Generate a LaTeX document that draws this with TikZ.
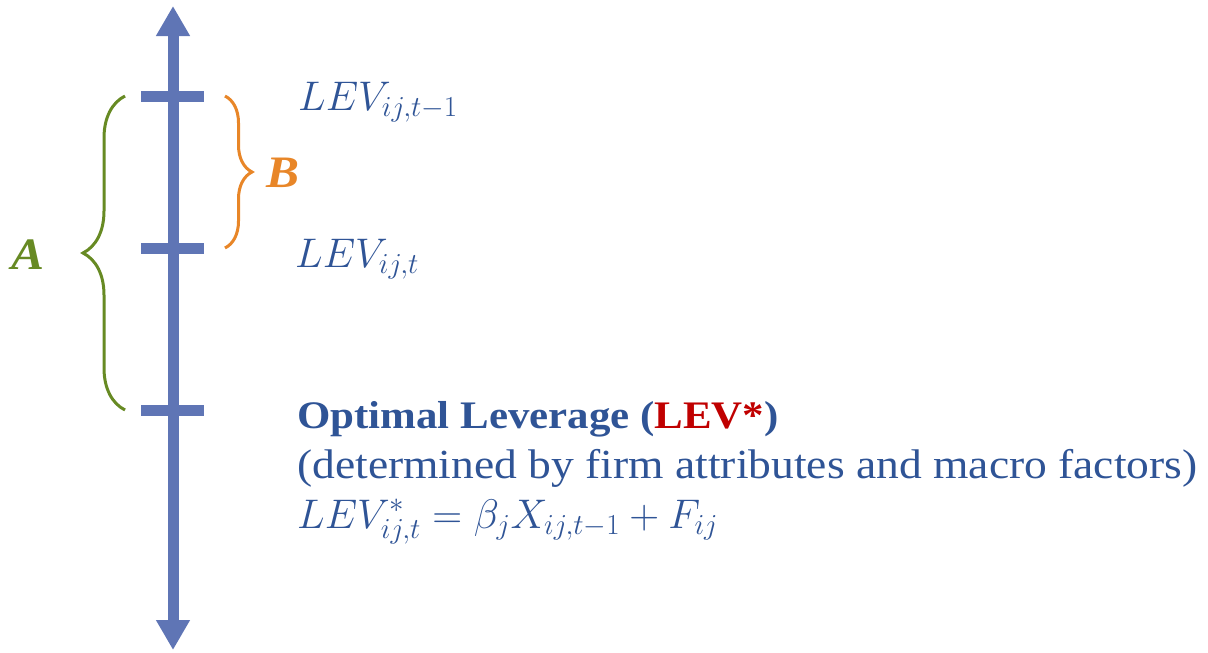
\RequirePackage{fix-cm}
\documentclass[tikz,border=0pt]{standalone}
\usepackage{fontspec}
\setmainfont{Liberation Serif}[FakeStretch=1.1]
\usetikzlibrary{arrows.meta,decorations.pathreplacing,positioning}
\definecolor{axisblue}{RGB}{95,117,181}
\definecolor{textblue}{RGB}{47,84,150}
\definecolor{bracegreen}{RGB}{103,138,35}
\definecolor{braceorange}{RGB}{232,134,40}
\definecolor{levred}{RGB}{192,0,0}

\begin{document}
\begin{tikzpicture}[
x=1pt, y=-1pt,
axis/.style={draw=axisblue, line width=11pt, {Triangle[width=32pt,length=30pt]}-{Triangle[width=32pt,length=30pt]}},
tickbar/.style={draw=axisblue, line width=11pt},
brace/.style={decorate, decoration={brace,amplitude=#1}, line width=3pt},
lbl/.style={inner sep=0pt, anchor=base west, text=textblue, font=\fontsize{41.4}{48}\selectfont},
letter/.style={inner sep=0pt, text=#1, font=\fontsize{45}{50}\selectfont\bfseries\itshape}
]
\useasboundingbox (0,0) rectangle (1208,653);

% axis and tick marks
\coordinate (top) at (173,6);
\coordinate (bot) at (173,650);
\coordinate (t1) at (173,96);
\coordinate (t2) at (173,248);
\coordinate (t3) at (173,410);
\draw[axis] (bot) -- (top);
\foreach \t in {t1,t2,t3}
  \draw[tickbar] ([xshift=-32pt]\t) -- ([xshift=31pt]\t);

% braces
\draw[brace=42pt, draw=bracegreen] ([xshift=-48pt]t3) -- ([xshift=-48pt]t1);
\draw[brace=27pt, draw=braceorange] ([xshift=52pt]t1) -- ([xshift=52pt]t2);
\node[letter=bracegreen] (A) at (28,255) {A};
\node[letter=braceorange] (B) at (283,173) {B};

% levels
\node[lbl] (levprev) at (298,110) {$LEV_{ij,t-1}$};
\node[lbl] (levnow) at (295,267) {$LEV_{ij,t}$};
\node[lbl, font=\fontsize{39}{48}\selectfont\bfseries] (optlev) at (297,428) {Optimal Leverage (\textcolor{levred}{LEV*})};
\node[lbl] (optdesc) at (297,478) {(determined by firm attributes and macro factors)};
\node[lbl] (opteq) at (297,528) {$LEV^{*}_{ij,t}=\beta_j X_{ij,t-1}+F_{ij}$};
\end{tikzpicture}
\end{document}
